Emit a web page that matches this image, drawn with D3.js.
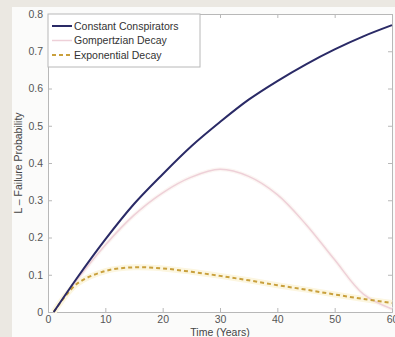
<!DOCTYPE html>
<html>
<head>
<meta charset="utf-8">
<script src="https://cdn.jsdelivr.net/npm/d3@7"></script>
<style>
  body { margin: 0; background: #ebe8e2; }
  svg { display: block; font-family: "Liberation Sans", Arial, sans-serif; }
</style>
</head>
<body>
<div id="chart"></div>
<script>
const years = [1, 5, 10, 15, 20, 25, 30, 35, 40, 45, 50, 55, 60];
const constant = [0, 0.09, 0.195, 0.29, 0.37, 0.445, 0.51, 0.57, 0.62, 0.665, 0.705, 0.74, 0.77];
const gompertz = [0, 0.085, 0.18, 0.26, 0.32, 0.362, 0.383, 0.364, 0.315, 0.235, 0.14, 0.048, 0.008];
const exponential = [0, 0.075, 0.11, 0.12, 0.117, 0.108, 0.097, 0.085, 0.072, 0.06, 0.047, 0.035, 0.024];
const xTicks = [0, 10, 20, 30, 40, 50, 60];
const yTicks = [0, 0.1, 0.2, 0.3, 0.4, 0.5, 0.6, 0.7, 0.8];
const seriesNames = ['Constant Conspirators', 'Gompertzian Decay', 'Exponential Decay'];

const width = 395, height = 337;
const margin = { left: 48, right: 3, top: 14, bottom: 25 };

const svg = d3.select('#chart').append('svg')
  .attr('width', width)
  .attr('height', height);

// figure background
svg.append('rect').attr('x', 0).attr('y', 0).attr('width', width).attr('height', height).attr('fill', '#ebe8e2');
svg.append('rect').attr('x', 12).attr('y', 7).attr('width', width - 12).attr('height', height - 7).attr('fill', '#fbfbfa');

const x = d3.scaleLinear().domain([0, 60]).range([margin.left, width - margin.right]);
const y = d3.scaleLinear().domain([0, 0.8]).range([height - margin.bottom, margin.top]);

svg.append('rect')
  .attr('x', x(0)).attr('y', y(0.8))
  .attr('width', x(60) - x(0)).attr('height', y(0) - y(0.8))
  .attr('fill', '#ffffff');

const fmt = d => d === 0 ? '0' : d3.format('.1f')(d);

// axes with inward ticks
const xAxis = svg.append('g').attr('transform', `translate(0, ${y(0)})`)
  .call(d3.axisBottom(x).tickValues(xTicks).tickSize(-4).tickPadding(4));
const xTop = svg.append('g').attr('transform', `translate(0, ${y(0.8)})`)
  .call(d3.axisTop(x).tickValues(xTicks).tickSize(-4).tickFormat(''));
const yAxis = svg.append('g').attr('transform', `translate(${x(0)}, 0)`)
  .call(d3.axisLeft(y).tickValues(yTicks).tickSize(-4).tickPadding(5).tickFormat(fmt));
const yRight = svg.append('g').attr('transform', `translate(${x(60)}, 0)`)
  .call(d3.axisRight(y).tickValues(yTicks).tickSize(-4).tickFormat(''));

[xAxis, xTop, yAxis, yRight].forEach(g => {
  g.selectAll('.domain').attr('stroke', '#b8b8b8');
  g.selectAll('.tick line').attr('stroke', '#b8b8b8');
  g.selectAll('text').attr('fill', '#555').attr('font-size', 10.5);
});

const line = vals => d3.line()
  .x((d, i) => x(years[i]))
  .y(d => y(d))
  .curve(d3.curveCatmullRom.alpha(0.5))(vals);

// glows
svg.append('path').attr('d', line(gompertz)).attr('fill', 'none')
  .attr('stroke', '#fcf6f3').attr('stroke-width', 4);
svg.append('path').attr('d', line(exponential)).attr('fill', 'none')
  .attr('stroke', '#fcf6e0').attr('stroke-width', 6);

svg.append('path').attr('d', line(gompertz)).attr('fill', 'none')
  .attr('stroke', '#eed0d8').attr('stroke-width', 1.5);
svg.append('path').attr('d', line(exponential)).attr('fill', 'none')
  .attr('stroke', '#c9a03c').attr('stroke-width', 2).attr('stroke-dasharray', '4,3');
svg.append('path').attr('d', line(constant)).attr('fill', 'none')
  .attr('stroke', '#2a2a66').attr('stroke-width', 2);

// legend
const legend = svg.append('g');
legend.append('rect')
  .attr('x', x(0)).attr('y', y(0.8))
  .attr('width', 152).attr('height', 53)
  .attr('fill', '#fff').attr('stroke', '#b8b8b8');
const styles = [
  { stroke: '#2a2a66', dash: null, w: 2 },
  { stroke: '#eed0d8', dash: null, w: 1.5 },
  { stroke: '#c9a03c', dash: '4,3', w: 2 }
];
const item = legend.selectAll('g.item').data(seriesNames).join('g')
  .attr('class', 'item')
  .attr('transform', (d, i) => `translate(${x(0) + 4}, ${y(0.8) + 12 + i * 14.5})`);
item.append('line')
  .attr('x1', 0).attr('x2', 20)
  .attr('stroke', (d, i) => styles[i].stroke)
  .attr('stroke-width', (d, i) => styles[i].w)
  .attr('stroke-dasharray', (d, i) => styles[i].dash);
item.append('text')
  .attr('x', 22).attr('dy', '0.35em')
  .attr('font-size', 10.5).attr('fill', '#333')
  .text(d => d);

// axis labels
svg.append('text')
  .attr('x', (x(0) + x(60)) / 2).attr('y', height - 1)
  .attr('text-anchor', 'middle').attr('font-size', 10.5).attr('fill', '#444')
  .text('Time (Years)');
svg.append('text')
  .attr('transform', `translate(22, ${(y(0) + y(0.8)) / 2}) rotate(-90)`)
  .attr('text-anchor', 'middle').attr('font-size', 10.5).attr('fill', '#444')
  .text('L – Failure Probability');
</script>
</body>
</html>
